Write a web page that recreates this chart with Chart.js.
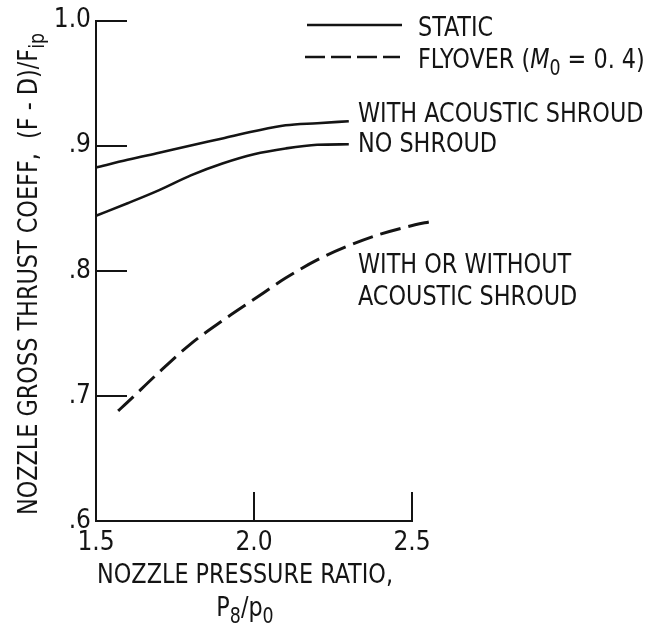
<!DOCTYPE html>
<html>
<head>
<meta charset="utf-8">
<script src="https://cdn.jsdelivr.net/npm/chart.js@4.4.1/dist/chart.umd.min.js"></script>
<style>
  html, body { margin: 0; padding: 0; background: #fff; }
  #wrap { width: 656px; height: 628px; position: relative; }
</style>
</head>
<body>
<div id="wrap"><canvas id="chart" width="656" height="628"></canvas></div>
<script>
// Nozzle pressure ratio P8/p0 for the static curves
const pressureRatio = [1.5, 1.6, 1.7, 1.8, 1.9, 2.0, 2.1, 2.2, 2.3];
// Static, with acoustic shroud
const staticWithShroud = [0.8825, 0.8887, 0.8944, 0.9002, 0.9058, 0.9115, 0.9163, 0.9180, 0.9196];
// Static, no shroud
const staticNoShroud = [0.8440, 0.8540, 0.8645, 0.8763, 0.8858, 0.8932, 0.8978, 0.9007, 0.9011];
// Flyover (M0 = 0.4), with or without acoustic shroud; the curve runs a little past 2.5
const flyoverRatio = [1.57, 1.6, 1.7, 1.8, 1.9, 2.0, 2.1, 2.2, 2.3, 2.4, 2.48, 2.57];
const flyoverThrust = [0.688, 0.695, 0.719, 0.7416, 0.7601, 0.7772, 0.7942, 0.8087, 0.8201, 0.8293, 0.8349, 0.840];

const xTickLabels = ['1.5', '2.0', '2.5'];
const yTickLabels = ['.6', '.7', '.8', '.9', '1.0'];

const FONT = "'DejaVu Sans Condensed', 'Liberation Sans', sans-serif";
const INK = '#141414';
const FS = 27;
const SQUEEZE = 0.92; // horizontal squeeze for the narrow lettering

function pts(xs, ys) { return xs.map((x, i) => ({ x: x, y: ys[i] })); }

// Draws a run of text pieces (some of them subscripts), squeezed horizontally
function drawRuns(ctx, runs, x, y, align) {
  const sizeOf = r => r.sub ? Math.round(FS * 0.78) : FS;
  const fontOf = r => (r.italic ? 'italic ' : '') + sizeOf(r) + 'px ' + FONT;
  let total = 0;
  runs.forEach(r => { ctx.font = fontOf(r); r.w = ctx.measureText(r.t).width; total += r.w; });
  const shown = total * SQUEEZE;
  const startX = align === 'center' ? x - shown / 2 : (align === 'right' ? x - shown : x);
  ctx.save();
  ctx.translate(startX, y);
  ctx.scale(SQUEEZE, 1);
  ctx.textAlign = 'left';
  ctx.textBaseline = 'alphabetic';
  let cx = 0;
  runs.forEach(r => {
    ctx.font = fontOf(r);
    ctx.fillText(r.t, cx, r.sub ? 7 : 0);
    cx += r.w;
  });
  ctx.restore();
}

const decorations = {
  id: 'decorations',
  afterDraw(chart) {
    const ctx = chart.ctx;
    const xs = chart.scales.x, ys = chart.scales.y;
    const area = chart.chartArea;
    ctx.save();
    ctx.strokeStyle = INK;
    ctx.fillStyle = INK;
    ctx.lineWidth = 2;
    ctx.lineCap = 'butt';

    // inward tick marks
    ys.ticks.forEach(t => {
      if (t.value <= ys.min + 1e-9) return;
      const py = Math.round(ys.getPixelForValue(t.value));
      ctx.beginPath(); ctx.moveTo(area.left, py); ctx.lineTo(area.left + 31, py); ctx.stroke();
    });
    xs.ticks.forEach(t => {
      if (t.value <= xs.min + 1e-9) return;
      const px = Math.round(xs.getPixelForValue(t.value));
      ctx.beginPath(); ctx.moveTo(px, area.bottom); ctx.lineTo(px, area.bottom - 29); ctx.stroke();
    });

    // axis titles
    drawRuns(ctx, [{ t: 'NOZZLE PRESSURE RATIO,' }], 245, 583, 'center');
    drawRuns(ctx, [{ t: 'P' }, { t: '8', sub: true }, { t: '/p' }, { t: '0', sub: true }], 245, 616, 'center');

    ctx.save();
    ctx.translate(37, 274);
    ctx.rotate(-Math.PI / 2);
    drawRuns(ctx, [{ t: 'NOZZLE GROSS THRUST COEFF,  (F - D)/F' }, { t: 'ip', sub: true }], 0, 0, 'center');
    ctx.restore();

    // legend
    ctx.lineWidth = 2.5;
    ctx.beginPath(); ctx.moveTo(307, 25); ctx.lineTo(402, 25); ctx.stroke();
    ctx.setLineDash([20, 6]);
    ctx.beginPath(); ctx.moveTo(305, 57); ctx.lineTo(400, 57); ctx.stroke();
    ctx.setLineDash([]);
    drawRuns(ctx, [{ t: 'STATIC' }], 418, 36, 'left');
    drawRuns(ctx, [{ t: 'FLYOVER (' }, { t: 'M', italic: true }, { t: '0', sub: true }, { t: ' = 0. 4)' }], 418, 68, 'left');

    // curve labels
    drawRuns(ctx, [{ t: 'WITH ACOUSTIC SHROUD' }], 358, 122, 'left');
    drawRuns(ctx, [{ t: 'NO SHROUD' }], 358, 152, 'left');
    drawRuns(ctx, [{ t: 'WITH OR WITHOUT' }], 358, 273, 'left');
    drawRuns(ctx, [{ t: 'ACOUSTIC SHROUD' }], 358, 305, 'left');
    ctx.restore();
  }
};

const lineStyle = {
  borderColor: INK,
  borderWidth: 2.6,
  pointRadius: 0,
  fill: false,
  cubicInterpolationMode: 'monotone',
  clip: false
};

new Chart(document.getElementById('chart'), {
  type: 'line',
  data: {
    datasets: [
      Object.assign({ label: 'WITH ACOUSTIC SHROUD', data: pts(pressureRatio, staticWithShroud) }, lineStyle),
      Object.assign({ label: 'NO SHROUD', data: pts(pressureRatio, staticNoShroud) }, lineStyle),
      Object.assign({ label: 'FLYOVER', data: pts(flyoverRatio, flyoverThrust), borderDash: [21, 8] }, lineStyle, { borderWidth: 3 })
    ]
  },
  options: {
    responsive: false,
    animation: false,
    layout: { padding: { top: 17, right: 244, left: 0, bottom: 0 } },
    plugins: { legend: { display: false }, tooltip: { enabled: false } },
    scales: {
      x: {
        type: 'linear', min: 1.5, max: 2.5,
        ticks: {
          stepSize: 0.5, autoSkip: false, maxRotation: 0, padding: 7,
          color: INK, font: { family: FONT, size: 26 },
          callback: (v, i) => xTickLabels[i]
        },
        grid: { display: false, drawTicks: false },
        border: { display: true, color: INK, width: 2 },
        afterFit: s => { s.height = 107; }
      },
      y: {
        type: 'linear', min: 0.6, max: 1.0,
        ticks: {
          stepSize: 0.1, padding: 5,
          color: INK, font: { family: FONT, size: 26 },
          callback: (v, i) => yTickLabels[i]
        },
        grid: { display: false, drawTicks: false },
        border: { display: true, color: INK, width: 2 },
        afterFit: s => { s.width = 96; }
      }
    }
  },
  plugins: [decorations]
});
</script>
</body>
</html>
